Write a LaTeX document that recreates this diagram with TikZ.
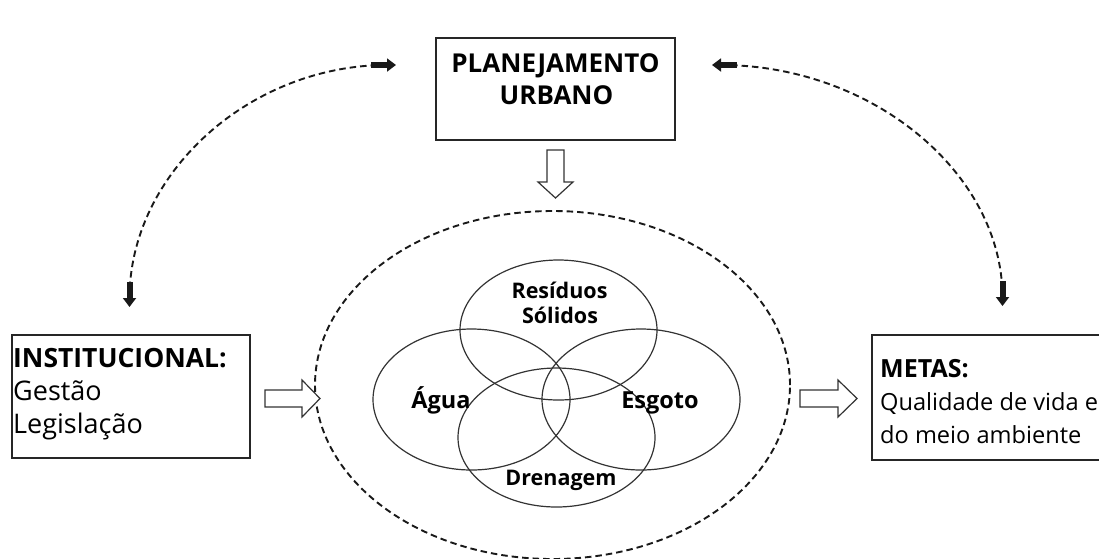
\documentclass[tikz,border=0pt]{standalone}
\usepackage{fontspec}
\setmainfont{Open Sans}
\usetikzlibrary{arrows.meta}
\tikzset{
  box/.style={draw=black!85, line width=1.3pt, rectangle, inner sep=0pt},
  venn/.style={draw=black!80, line width=1.2pt},
  dashline/.style={line width=1.9pt, dash pattern=on 6.5pt off 4pt, black!90},
  blockarrow/.style={{Triangle[length=9pt,width=13pt] Rectangle[length=16pt,width=6pt]}-{Rectangle[length=16pt,width=6pt] Triangle[length=9pt,width=13pt]}},
  hollow/.style={draw=black!80, line width=1.2pt, fill=white, line join=miter},
  lefttxt/.style={font=\fontsize{27}{33}\selectfont, inner sep=0pt, anchor=base west},
  righttxt/.style={font=\fontsize{23.6}{33}\selectfont, inner sep=0pt, anchor=base west},
  venntxt/.style={font=\fontsize{21.5}{25}\selectfont\bfseries, inner sep=0pt, anchor=base},
  vennbig/.style={font=\fontsize{23.5}{25}\selectfont\bfseries, inner sep=0pt, anchor=base},
}
\begin{document}
\begin{tikzpicture}[x=1pt,y=-1pt]
\useasboundingbox (0,0) rectangle (1099,558);
\clip (0,0) rectangle (1099,558);
% boxes
\node[box, minimum width=239pt, minimum height=102pt] (plan) at (555.5,89) {};
\node[font=\fontsize{26}{33}\selectfont\bfseries, inner sep=0pt, anchor=base] (planA) at (555.5,72) {PLANEJAMENTO};
\node[font=\fontsize{26}{33}\selectfont\bfseries, inner sep=0pt, anchor=base] (planB) at (556.5,104) {URBANO};
\node[box, minimum width=238pt, minimum height=123pt] (inst) at (131,396.5) {};
\node[lefttxt, font=\fontsize{26.5}{33}\selectfont\bfseries] (instA) at (13,367) {INSTITUCIONAL:};
\node[lefttxt] (instB) at (13,400) {Gestão};
\node[lefttxt] (instC) at (13,433) {Legislação};
\node[box, minimum width=250pt, minimum height=125pt] (metas) at (997,397.5) {};
\node[righttxt, font=\fontsize{25}{33}\selectfont\bfseries] (metA) at (880,377) {METAS:};
\node[righttxt] (metB) at (880,410) {Qualidade de vida e};
\node[righttxt] (metC) at (880,443) {do meio ambiente};
% big dashed ellipse
\draw[dashline] (552.5,385) ellipse [x radius=237.5pt, y radius=174pt];
% venn
\draw[venn] (558.5,330) ellipse [x radius=98.5pt, y radius=70pt];
\draw[venn] (471.5,399.5) ellipse [x radius=98.5pt, y radius=70.5pt];
\draw[venn] (641,399.5) ellipse [x radius=99pt, y radius=70.5pt];
\draw[venn] (556.5,437.5) ellipse [x radius=98.5pt, y radius=69.5pt];
\node[venntxt] (res) at (559.5,298) {Resíduos};
\node[venntxt] (sol) at (560,323) {Sólidos};
\node[vennbig] (agua) at (441,408) {Água};
\node[vennbig] (esg) at (660,408) {Esgoto};
\node[venntxt] (dren) at (561,485) {Drenagem};
% hollow arrows
\draw[hollow] (265,390) -- (302,390) -- (302,380) -- (320,398.5) -- (302,417) -- (302,407) -- (265,407) -- cycle;
\draw[hollow] (800,390) -- (838,390) -- (838,380) -- (857,398.5) -- (838,417) -- (838,407) -- (800,407) -- cycle;
\draw[hollow] (547,150) -- (564,150) -- (564,182) -- (573,182) -- (555.5,198) -- (538,182) -- (547,182) -- cycle;
% dashed curved arrows
\coordinate (lt) at (129.5,307);
\coordinate (lr) at (396,65);
\coordinate (rl) at (712,65);
\coordinate (rb) at (1002.5,306);
\draw[dashline, blockarrow] (lt) .. controls (129.5,173) and (250,65) .. (lr);
\draw[dashline, blockarrow] (rl) .. controls (872,65) and (1002.5,173) .. (rb);
\end{tikzpicture}
\end{document}
